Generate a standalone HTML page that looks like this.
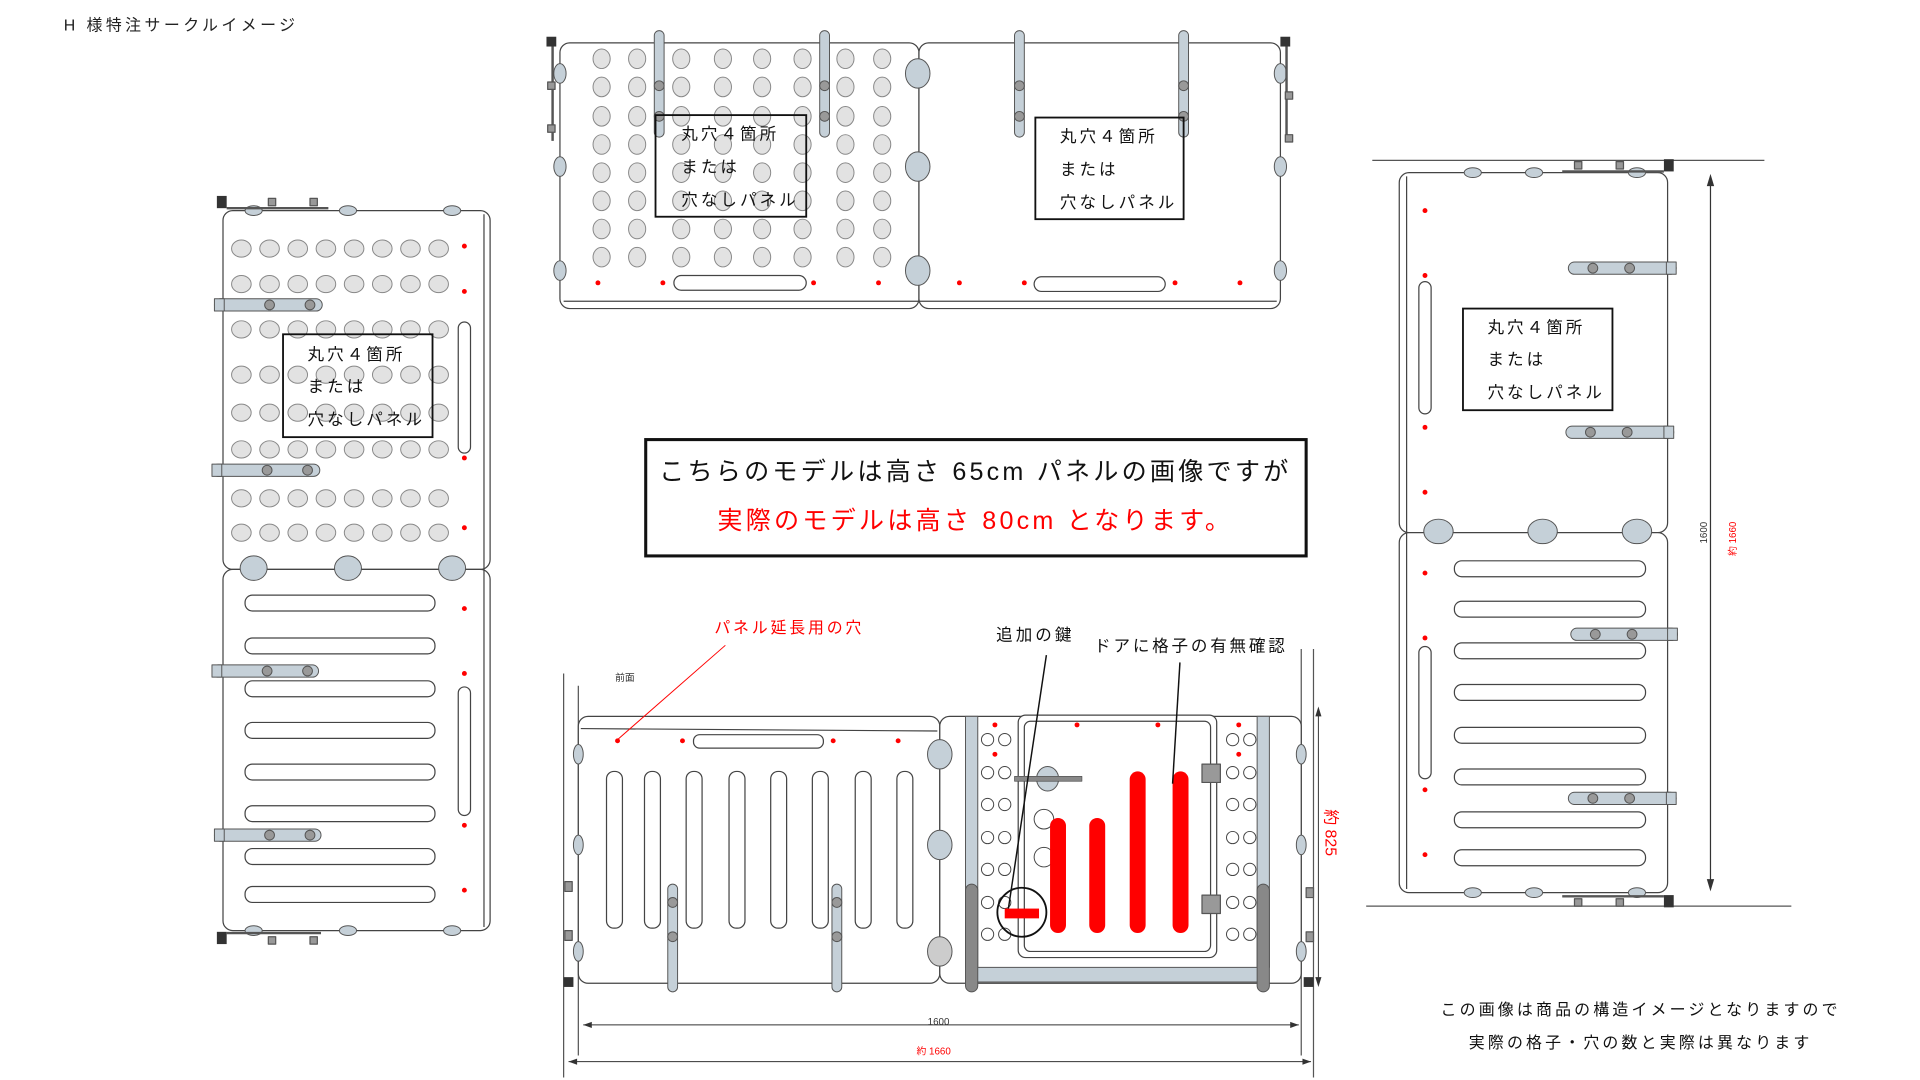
<!DOCTYPE html>
<html><head><meta charset="utf-8"><style>
html,body{margin:0;padding:0;background:#fff;width:1920px;height:1080px;overflow:hidden}
svg{display:block}
text{font-family:"Liberation Sans","Noto Sans CJK JP",sans-serif}
</style></head><body>
<svg id="s" width="1920" height="1080" viewBox="0 0 1567 882" preserveAspectRatio="none" xmlns="http://www.w3.org/2000/svg">
<g id="g" stroke-linejoin="round"></g>
<text x="52" y="25" font-size="13" fill="#222" letter-spacing="2.8">H 様特注サークルイメージ</text>

<rect x="527" y="359" width="539" height="95" fill="#fff" stroke="#111" stroke-width="2.5"/>
<text x="796" y="392" font-size="20.5" fill="#111" text-anchor="middle" letter-spacing="2.6">こちらのモデルは高さ 65cm パネルの画像ですが</text>
<text x="796" y="432" font-size="20.5" fill="#f00" text-anchor="middle" letter-spacing="2.6">実際のモデルは高さ 80cm となります。</text>

<g id="boxes"></g>

<text x="583" y="517" font-size="13" fill="#f00" letter-spacing="2.3">パネル延長用の穴</text>
<text x="502" y="556" font-size="8" fill="#333">前面</text>
<text x="813" y="523" font-size="13.5" fill="#111" letter-spacing="2.5">追加の鍵</text>
<text x="893" y="532" font-size="13.5" fill="#111" letter-spacing="2.3">ドアに格子の有無確認</text>
<text x="766" y="837" font-size="8" fill="#333" text-anchor="middle">1600</text>
<text x="762" y="861" font-size="8" fill="#f00" text-anchor="middle">約 1660</text>
<text transform="translate(1082,680) rotate(90)" font-size="13" fill="#f00" text-anchor="middle">約 825</text>
<text transform="translate(1393,435) rotate(-90)" font-size="8" fill="#333" text-anchor="middle">1600</text>
<text transform="translate(1417,440) rotate(-90)" font-size="8" fill="#f00" text-anchor="middle">約 1660</text>
<text x="1339" y="829" font-size="13" fill="#111" text-anchor="middle" letter-spacing="2.6">この画像は商品の構造イメージとなりますので</text>
<text x="1339" y="856" font-size="13" fill="#111" text-anchor="middle" letter-spacing="2.6">実際の格子・穴の数と実際は異なります</text>

<g font-size="13.5" fill="#111" letter-spacing="2.5">
<text x="556" y="114">丸穴４箇所</text><text x="556" y="141">または</text><text x="556" y="168">穴なしパネル</text>
<text x="865" y="116">丸穴４箇所</text><text x="865" y="143">または</text><text x="865" y="170">穴なしパネル</text>
<text x="251" y="294">丸穴４箇所</text><text x="251" y="320">または</text><text x="251" y="347">穴なしパネル</text>
<text x="1214" y="272">丸穴４箇所</text><text x="1214" y="298">または</text><text x="1214" y="325">穴なしパネル</text>
</g>
</svg>
<script>
var NS="http://www.w3.org/2000/svg",G=document.getElementById('g'),B=document.getElementById('boxes');
function el(t,a,p){var e=document.createElementNS(NS,t);for(var k in a)e.setAttribute(k,a[k]);(p||G).appendChild(e);return e;}
function rect(x,y,w,h,f,s,rx,sw,p){return el('rect',{x:x,y:y,width:w,height:h,fill:f||'none',stroke:s||'none',rx:rx||0,'stroke-width':sw||1},p);}
function circ(x,y,r,f,s,sw){return el('circle',{cx:x,cy:y,r:r,fill:f,stroke:s||'none','stroke-width':sw||0.8});}
function ell(x,y,rx,ry,f,s){return el('ellipse',{cx:x,cy:y,rx:rx,ry:ry,fill:f,stroke:s||'#555','stroke-width':0.8});}
function line(x1,y1,x2,y2,s,sw){return el('line',{x1:x1,y1:y1,x2:x2,y2:y2,stroke:s||'#111','stroke-width':sw||1});}
var BAR='#c5d0d8',HOLE='#e2e2e2',RED='#f00';
function vbar(x,y1,y2){rect(x-4,y1,8,y2-y1,BAR,'#555',4,0.8);circ(x,y1+45,4,'#999','#555');circ(x,y1+70,4,'#999','#555');}
function hbar(x1,x2,y,left){rect(x1,y-5,x2-x1,10,BAR,'#555',5,0.8);rect(left?x1:x2-8,y-5,8,10,BAR,'#555',0,0.8);circ(x1+(left?45:20),y,4,'#999','#555');circ(x1+(left?78:50),y,4,'#999','#555');}

/* TOP */
rect(457,35,293,217,'#fff','#444',8);rect(750,35,295,217,'#fff','#444',8);
line(460,246,1042,246,'#444',1);
var cx=[491,520,556,590,622,655,690,720],cy=[48,71,95,118,141,164,187,210];
cx.forEach(function(x){cy.forEach(function(y){ell(x,y,7,8,HOLE,'#888');});});
[60,136,221].forEach(function(y){ell(749,y,10,12,BAR,'#555');});
[60,136,221].forEach(function(y){ell(457,y,5,8,BAR,'#555');ell(1045,y,5,8,BAR,'#555');});
[488,541,664,717,783,836,959,1012].forEach(function(x){circ(x,231,2,RED);});
rect(550,225,108,12,'#fff','#444',6);rect(844,226,107,12,'#fff','#444',6);
[538,673,832,966].forEach(function(x){vbar(x,25,112);});
rect(446,30,8,8,'#333');rect(1045,30,8,8,'#333');line(451,38,451,115,'#555',2);line(1050,38,1050,115,'#555',2);
[70,105].forEach(function(y){rect(447,y-3,6,6,'#999','#555');rect(1049,y+5,6,6,'#999','#555');});
rect(535,94,123,83,'none','#111',0,1.5,B);rect(845,96,121,83,'none','#111',0,1.5,B);

/* LEFT */
rect(182,172,218,293,'#fff','#444',8);rect(182,465,218,295,'#fff','#444',8);
line(395,175,395,757,'#444',1);
var lx=[197,220,243,266,289,312,335,358],ly=[203,232,269,306,337,367,407,435];
lx.forEach(function(x){ly.forEach(function(y){ell(x,y,8,7,HOLE,'#888');});});
[207,284,369].forEach(function(x){ell(x,464,11,10,BAR,'#555');});
[207,284,369].forEach(function(x){ell(x,172,7,4,BAR,'#555');ell(x,760,7,4,BAR,'#555');});
[492,527,562,596,630,664,699,730].forEach(function(y){rect(200,y-6,155,13,'#fff','#444',6);});
[201,238,374,431,497,550,674,727].forEach(function(y){circ(379,y,2,RED);});
rect(374,263,10,107,'#fff','#444',5);rect(374,561,10,105,'#fff','#444',5);
hbar(175,263,249,true);hbar(173,261,384,true);hbar(173,260,548,true);hbar(175,262,682,true);
rect(177,160,8,10,'#333');rect(177,761,8,10,'#333');line(185,170,268,170,'#555',2);line(185,762,262,762,'#555',2);
[222,256].forEach(function(x){rect(x-3,162,6,6,'#999','#555');rect(x-3,765,6,6,'#999','#555');});
rect(231,273,122,84,'none','#111',0,1.5,B);

/* RIGHT */
line(1120,131,1440,131,'#555',1);line(1115,740,1462,740,'#555',1);
rect(1142,141,219,294,'#fff','#444',8);rect(1142,435,219,294,'#fff','#444',8);
line(1148,144,1148,726,'#444',1);
[172,225,349,402,468,521,645,698].forEach(function(y){circ(1163,y,2,RED);});
rect(1158,230,10,108,'#fff','#444',5);rect(1158,528,10,108,'#fff','#444',5);
[1174,1259,1336].forEach(function(x){ell(x,434,12,10,BAR,'#555');});
[1202,1252,1336].forEach(function(x){ell(x,141,7,4,BAR,'#555');ell(x,729,7,4,BAR,'#555');});
[464,497,531,565,600,634,669,700].forEach(function(y){rect(1187,y-6,156,13,'#fff','#444',6);});
hbar(1280,1368,219,false);hbar(1278,1366,353,false);hbar(1282,1369,518,false);hbar(1280,1368,652,false);
rect(1358,130,8,10,'#333');rect(1358,731,8,10,'#333');line(1275,140,1358,140,'#555',2);line(1275,732,1358,732,'#555',2);
[1288,1322].forEach(function(x){rect(x-3,132,6,6,'#999','#555');rect(x-3,734,6,6,'#999','#555');});
rect(1194,252,122,83,'none','#111',0,1.5,B);
line(1396,146,1396,724,'#333',1);el('path',{d:'M1393,152 L1396,142 L1399,152 Z M1393,718 L1396,728 L1399,718 Z',fill:'#333'});

/* BOTTOM */
line(460,550,460,880,'#555',1);line(472,560,472,862,'#555',1);line(1062,530,1062,862,'#555',1);line(1072,530,1072,880,'#555',1);
rect(472,585,295,218,'#fff','#444',8);rect(767,585,295,218,'#fff','#444',8);
line(474,595,765,597,'#444',1);
[501,532,566,601,635,669,704,738].forEach(function(x){rect(x-6,630,13,128,'#fff','#444',6);});
rect(566,600,106,11,'#fff','#444',5);
[504,557,680,733].forEach(function(x){circ(x,605,2,RED);});
[616,690].forEach(function(y){ell(767,y,10,12,BAR,'#555');});ell(767,777,10,12,'#ccc','#555');
[616,690,777].forEach(function(y){ell(472,y,4,8,BAR,'#555');ell(1062,y,4,8,BAR,'#555');});
[549,683].forEach(function(x){rect(x-4,722,8,88,BAR,'#555',4,0.8);circ(x,737,4,'#999','#555');circ(x,765,4,'#999','#555');});
rect(788,585,10,205,BAR,'#555',0,0.8);rect(1026,585,10,205,BAR,'#555',0,0.8);
rect(796,790,232,12,BAR,'#555',0,0.8);
rect(831,584,162,198,'#fff','#444',6);rect(836,589,152,188,'none','#444',5);
[[806,820],[1006,1020]].forEach(function(p){[606,633,659,686,712,739,765,792].forEach(function(y){p.forEach(function(x){if(y<790)circ(x,y-2,5,'#fff','#444');});});});
[[812,592],[812,616],[879,592],[945,592],[1011,592],[1011,616]].forEach(function(p){circ(p[0],p[1],2,RED);});
rect(788,722,10,88,'#888','#555',5,0.8);rect(1026,722,10,88,'#888','#555',5,0.8);
ell(855,636,9,10,BAR,'#555');rect(828,634,55,4,'#888','#555',0,0.6);
circ(852,669,8,'#fff','#444');circ(852,700,8,'#fff','#444');
rect(981,624,15,15,'#999','#555');rect(981,731,15,15,'#999','#555');
[[863,668],[895,668],[928,630],[963,630]].forEach(function(p){rect(p[0]-6,p[1],13,762-p[1],RED,'none',6.5);});
rect(820,742,28,8,RED);circ(834,745,20,'none','#111',1.5);
rect(461,720,6,8,'#999','#555');rect(461,760,6,8,'#999','#555');rect(460,798,8,8,'#333');
rect(1066,725,6,8,'#999','#555');rect(1066,761,6,8,'#999','#555');rect(1064,798,8,8,'#333');
line(592,527,504,604,RED,0.8);line(854,535,823,742,'#111',1.2);line(963,541,957,640,'#111',1.2);
line(476,837,1060,837,'#333',0.8);line(464,867,1070,867,'#333',0.8);line(1076,581,1076,802,'#333',0.8);
el('path',{d:'M476,837 l7,-2.5 v5 Z M1060,837 l-7,-2.5 v5 Z M464,867 l7,-2.5 v5 Z M1070,867 l-7,-2.5 v5 Z M1076,577 l-2.5,8 h5 Z M1076,806 l-2.5,-8 h5 Z',fill:'#333'});
</script>
</body></html>
